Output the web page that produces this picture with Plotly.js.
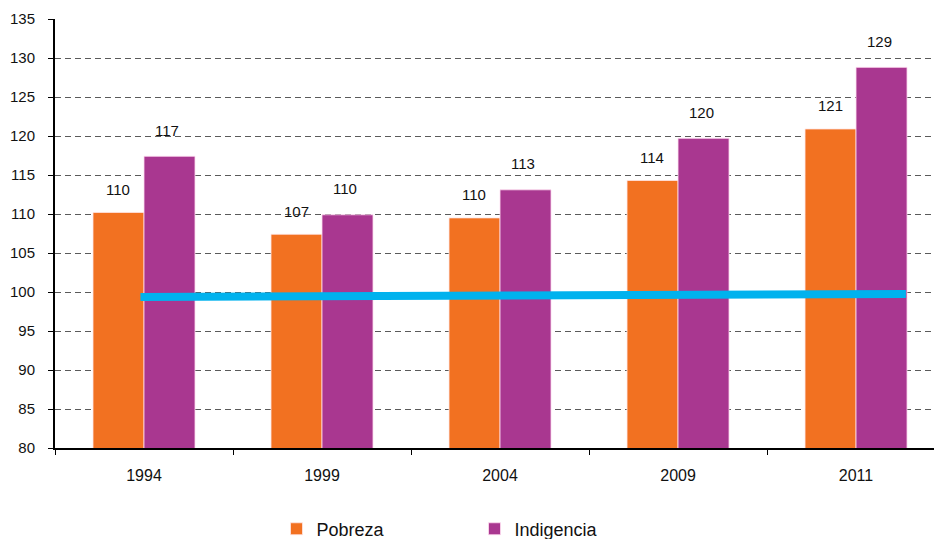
<!DOCTYPE html>
<html><head><meta charset="utf-8">
<script src="https://cdn.plot.ly/plotly-3.0.1.min.js"></script>
<style>html,body{margin:0;padding:0;overflow:hidden;background:#fff}</style>
</head><body><div id="chart" style="width:934px;height:539px"></div>
<script>
const years = ["1994", "1999", "2004", "2009", "2011"];
const pobreza = [110.2, 107.4, 109.5, 114.3, 120.9];
const indigencia = [117.4, 109.9, 113.1, 119.7, 128.8];
const pobrezaLabels = ["110", "107", "110", "114", "121"];
const indigenciaLabels = ["117", "110", "113", "120", "129"];
const basePos = [-0.02, 4.28];
const baseVals = [99.35, 99.75];

const font = "Liberation Sans, Arial, sans-serif";
const xr = [-0.5, 4.438];

const traces = [
  {type: "bar", name: "Pobreza", x: years, y: pobreza, marker: {color: "#F27121", line: {color: "rgba(255,230,230,0.8)", width: 1}}},
  {type: "bar", name: "Indigencia", x: years, y: indigencia, marker: {color: "#A93790", line: {color: "rgba(255,220,240,0.8)", width: 1}}},
  {type: "scatter", mode: "lines", x: basePos, y: baseVals, xaxis: "x2", yaxis: "y", line: {color: "#00B2EE", width: 8}, showlegend: false, hoverinfo: "skip"}
];

const annotations = [];
years.forEach((yr, i) => {
  annotations.push({xref: "x", yref: "y", x: i, y: pobreza[i], text: pobrezaLabels[i], showarrow: false, xshift: -26, yshift: 23, font: {family: font, size: 15, color: "#111"}});
  annotations.push({xref: "x", yref: "y", x: i, y: indigencia[i], text: indigenciaLabels[i], showarrow: false, xshift: 23, yshift: 26, font: {family: font, size: 15, color: "#111"}});
});

const layout = {
  width: 934, height: 539,
  margin: {l: 55, r: 0, t: 19, b: 91, autoexpand: false},
  paper_bgcolor: "#fff", plot_bgcolor: "#fff",
  font: {family: font, size: 15, color: "#111"},
  barmode: "group", bargap: 0.427, bargroupgap: 0,
  xaxis: {type: "category", range: xr, showline: true, linecolor: "#000", linewidth: 2,
          ticks: "outside", tickson: "boundaries", ticklen: 5, tickcolor: "#000", tickwidth: 1,
          showgrid: false, zeroline: false, tickfont: {family: font, size: 16, color: "#111"}, ticklabelstandoff: 12},
  xaxis2: {overlaying: "x", range: xr, visible: false, showgrid: false, zeroline: false},
  yaxis: {range: [80, 135], dtick: 5, showline: true, linecolor: "#000", linewidth: 2,
          ticks: "outside", ticklen: 5, tickcolor: "#000", tickwidth: 1,
          showgrid: true, gridcolor: "#5a5a5a", gridwidth: 1, griddash: "6px,4px",
          zeroline: false, tickfont: {family: font, size: 15, color: "#111"}, ticklabelstandoff: 10},
  legend: {orientation: "h", x: 0.252, xanchor: "left", y: -0.189, yanchor: "middle",
           entrywidth: 153, entrywidthmode: "pixels", font: {family: font, size: 18, color: "#111"}},
  annotations: annotations,
  showlegend: true
};

Plotly.newPlot("chart", traces, layout, {displayModeBar: false, staticPlot: true});
</script></body></html>
